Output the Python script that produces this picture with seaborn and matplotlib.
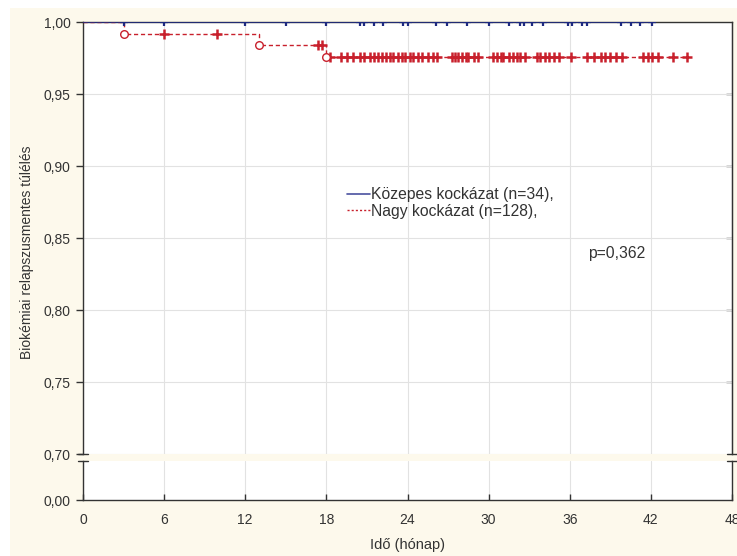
import numpy as np
import pandas as pd
import matplotlib
matplotlib.use("Agg")
import matplotlib.pyplot as plt
import seaborn as sns
from matplotlib.patches import Rectangle
from matplotlib.lines import Line2D

# ---------------- data ----------------
mid_label = "Közepes kockázat (n=34),"
high_label = "Nagy kockázat (n=128),"
p_text = "p=0,362"
x_label = "Idő (hónap)"
y_label = "Biokémiai relapszusmentes túlélés"

mid_survival = 1.0
mid_end_month = 42.1
mid_censor_months = [3.0, 6.0, 12.0, 15.0, 18.0, 20.5, 20.8, 21.5, 22.2, 23.7, 24.0,
                     26.1, 26.9, 28.4, 30.0, 31.5, 32.3, 32.6, 33.2, 34.0, 35.9, 36.2,
                     36.9, 37.3, 39.8, 40.5, 41.2, 42.1]

high_event_months = [0.0, 3.0, 13.0, 18.0]
high_event_survival = [1.0, 0.992, 0.984, 0.976]
high_end_month = 44.7
high_censor_months = [6.0, 9.9, 17.4, 17.7,
                      18.3, 19.1, 19.5, 20.0, 20.5, 20.8, 21.2, 21.5, 21.8, 22.1, 22.4,
                      22.7, 22.9, 23.3, 23.6, 23.8, 24.2, 24.4, 24.8, 25.1, 25.5, 25.9,
                      26.2, 27.3, 27.5, 27.7, 28.0, 28.3, 28.5, 28.9, 29.2, 30.3, 30.6,
                      30.9, 31.1, 31.5, 31.8, 32.1, 32.3, 32.7, 33.6, 33.8, 34.2, 34.5,
                      34.8, 35.2, 36.1, 37.3, 37.8, 38.3, 38.6, 39.0, 39.4, 39.9, 41.4,
                      41.8, 42.1, 42.5, 43.6, 44.7]

x_ticks = [0, 6, 12, 18, 24, 30, 36, 42, 48]
y_ticks_top = [0.70, 0.75, 0.80, 0.85, 0.90, 0.95, 1.00]
y_ticks_bottom = [0.00]

# ---------------- style ----------------
sns.set_style("white")
plt.rcParams["font.family"] = ["Liberation Sans", "DejaVu Sans"]
cream = "#FDF9EC"
red = "#C8202C"
navy = "#1E2A80"
blue_line = "#4A52A0"
txt = "#333333"
spine_c = "#333333"
grid_c = "#E2E2E2"

W, H = 737, 556
fig = plt.figure(figsize=(W / 100, H / 100), dpi=100, facecolor="white")
fig.patches.append(Rectangle((10 / W, 0), 1 - 10 / W, 1 - 8 / H, transform=fig.transFigure,
                             facecolor=cream, edgecolor="none", zorder=-10))

left, right = 83 / W, 732 / W
ax = fig.add_axes([left, 1 - 454 / H, right - left, (454 - 22) / H])
axb = fig.add_axes([left, 1 - 500 / H, right - left, (500 - 461) / H])

# step curve for high-risk group
high_df = pd.DataFrame({
    "month": high_event_months + [high_end_month],
    "surv": high_event_survival + [high_event_survival[-1]],
})
sns.lineplot(data=high_df, x="month", y="surv", ax=ax, color=red, lw=1.0,
             linestyle=(0, (3, 2)), drawstyle="steps-post", estimator=None, sort=False,
             zorder=3)

# mid-risk group line (at 1.0)
mid_df = pd.DataFrame({"month": [0.0, mid_end_month], "surv": [mid_survival, mid_survival]})
sns.lineplot(data=mid_df, x="month", y="surv", ax=ax, color=navy, lw=1.2,
             estimator=None, sort=False, zorder=3)

# event circles
ev_df = pd.DataFrame({"month": high_event_months[1:], "surv": high_event_survival[1:]})
sns.scatterplot(data=ev_df, x="month", y="surv", ax=ax, marker="o", s=30,
                facecolor="white", edgecolor=red, linewidth=1.0, zorder=5)

# censor marks
idx = np.searchsorted(np.array(high_event_months), np.array(high_censor_months), side="right") - 1
hc_df = pd.DataFrame({"month": high_censor_months,
                      "surv": np.array(high_event_survival)[idx]})
sns.scatterplot(data=hc_df, x="month", y="surv", ax=ax, marker="+", s=48,
                color=red, linewidth=1.8, zorder=4)
mc_df = pd.DataFrame({"month": mid_censor_months,
                      "surv": [mid_survival] * len(mid_censor_months)})
sns.scatterplot(data=mc_df, x="month", y="surv", ax=ax, marker="+", s=40,
                color=navy, linewidth=1.6, zorder=4)

# ---------------- axes ----------------
for a in (ax, axb):
    a.set_facecolor("white")
    a.set_xlim(0, 48)
    a.set_xticks(x_ticks)
    a.grid(True, axis="x", color=grid_c, lw=0.8)
    a.set_axisbelow(True)
    a.set_xlabel("")
    a.set_ylabel("")
    for s in a.spines.values():
        s.set_color(spine_c)
        s.set_linewidth(1.0)

ax.set_ylim(0.70, 1.00)
ax.set_yticks(y_ticks_top)
ax.set_yticklabels([f"{v:.2f}".replace(".", ",") for v in y_ticks_top])
ax.grid(True, axis="y", color=grid_c, lw=0.8)
ax.spines["bottom"].set_visible(False)
ax.tick_params(axis="x", bottom=False, labelbottom=False)
ax.tick_params(axis="y", left=True, direction="out", length=5, width=1, color=spine_c,
               labelsize=10, labelcolor=txt, pad=4)
sec = ax.secondary_yaxis("right")
sec.set_yticks(y_ticks_top[1:-1])
sec.tick_params(axis="y", direction="in", length=4, width=1, color=spine_c, labelright=False)
sec.spines["right"].set_color(spine_c)

axb.set_ylim(0, 0.03)
axb.set_yticks(y_ticks_bottom)
axb.set_yticklabels([f"{v:.2f}".replace(".", ",") for v in y_ticks_bottom])
axb.spines["top"].set_visible(False)
axb.tick_params(axis="y", left=True, direction="out", length=5, width=1, color=spine_c,
                labelsize=10, labelcolor=txt, pad=4)
axb.tick_params(axis="x", bottom=True, direction="in", length=4, width=1, color=spine_c,
                labelsize=10, labelcolor=txt, pad=9)

# axis break marks
d = 5 / 649
for xx in (0, 1):
    ax.plot([xx - d, xx + d], [0, 0], transform=ax.transAxes, color=spine_c, lw=1, clip_on=False)
    axb.plot([xx - d, xx + d], [1, 1], transform=axb.transAxes, color=spine_c, lw=1, clip_on=False)

# legend
handles = [Line2D([], [], color=blue_line, lw=1.2),
           Line2D([], [], color=red, lw=1.0, linestyle=(0, (1.5, 1.5)))]
ax.legend(handles, [mid_label, high_label], frameon=False, loc="upper left",
          bbox_to_anchor=(347 / W, 1 - 187 / H), bbox_transform=fig.transFigure,
          borderaxespad=0, borderpad=0, handlelength=1.45, handletextpad=0.05,
          labelspacing=0.12, fontsize=11.3, labelcolor=txt)

fig.text(588 / W, 1 - 253 / H, p_text, ha="left", va="center", fontsize=11.3, color=txt)
fig.text(27 / W, 1 - 252 / H, y_label, rotation=90, ha="center", va="center",
         fontsize=10, color=txt)
fig.text(407 / W, 1 - 545 / H, x_label, ha="center", va="center", fontsize=10.5, color=txt)

fig.savefig("out.png", dpi=100, facecolor=fig.get_facecolor())
